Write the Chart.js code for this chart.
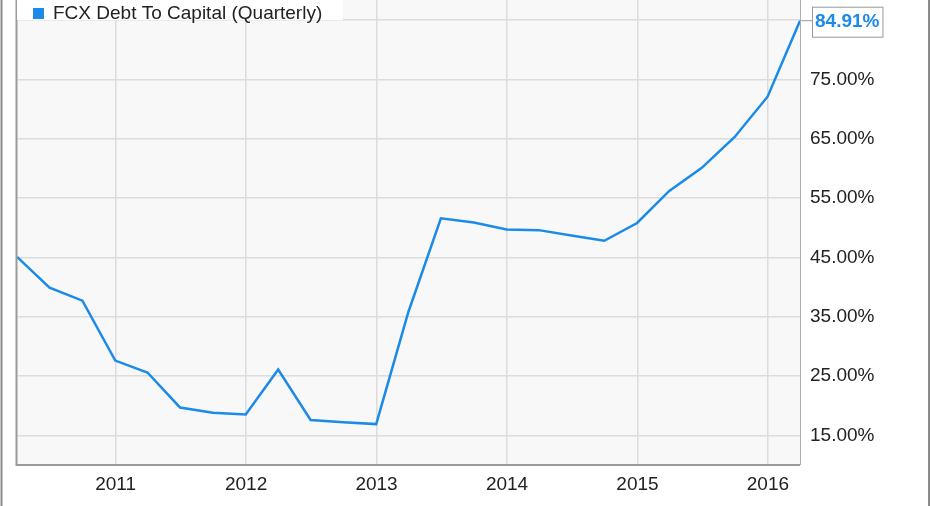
<!DOCTYPE html>
<html>
<head>
<meta charset="utf-8">
<script src="https://cdn.jsdelivr.net/npm/chart.js@4/dist/chart.umd.min.js"></script>
<style>
  html, body { margin: 0; padding: 0; background: #ffffff; }
  #wrap { width: 931px; height: 506px; position: relative; }
</style>
</head>
<body>
<div id="wrap"><canvas id="chart" width="931" height="506"></canvas></div>
<script>
const seriesLabel = 'FCX Debt To Capital (Quarterly)'

const quarterEnds = [
  '2010-03-31', '2010-06-30', '2010-09-30', '2010-12-31',
  '2011-03-31', '2011-06-30', '2011-09-30', '2011-12-31',
  '2012-03-31', '2012-06-30', '2012-09-30', '2012-12-31',
  '2013-03-31', '2013-06-30', '2013-09-30', '2013-12-31',
  '2014-03-31', '2014-06-30', '2014-09-30', '2014-12-31',
  '2015-03-31', '2015-06-30', '2015-09-30', '2015-12-31',
  '2016-03-31'
]

const debtToCapital = [
  45.1, 39.9, 37.7, 27.6,
  25.6, 19.7, 18.8, 18.5,
  26.1, 17.6, 17.2, 16.9,
  35.8, 51.6, 50.9, 49.7,
  49.6, 48.7, 47.8, 50.8,
  56.2, 60.1, 65.3, 72.1,
  84.91
]

const yearTicks = [2011, 2012, 2013, 2014, 2015, 2016]
const percentTicks = [15, 25, 35, 45, 55, 65, 75, 85]

const lineColor = '#1b8ae8'
const fontFamily = '"Liberation Sans", Arial, sans-serif'

// дата -> дробный год, чтобы положить точки на линейную ось
function toYear (s) {
  const [y, m, d] = s.split('-').map(Number)
  const start = Date.UTC(y, 0, 1)
  const end = Date.UTC(y + 1, 0, 1)
  return y + (Date.UTC(y, m - 1, d) - start) / (end - start)
}

const points = quarterEnds.map((q, i) => ({ x: toYear(q), y: debtToCapital[i] }))

const framePlugin = {
  id: 'frame',
  beforeDraw (chart) {
    const { ctx, chartArea: a } = chart
    ctx.save()
    ctx.fillStyle = '#f8f8f8'
    ctx.fillRect(a.left, a.top, a.right - a.left, a.bottom - a.top)
    ctx.restore()
  },
  afterDraw (chart) {
    const { ctx, chartArea: a, width } = chart
    ctx.save()
    // рамка области графика
    ctx.strokeStyle = '#9a9a9a'
    ctx.lineWidth = 2
    ctx.beginPath()
    ctx.moveTo(a.left - 0.5, a.top)
    ctx.lineTo(a.left - 0.5, a.bottom)
    ctx.lineTo(a.right, a.bottom)
    ctx.stroke()
    ctx.lineWidth = 1
    ctx.strokeStyle = '#b0b0b0'
    ctx.beginPath()
    ctx.moveTo(a.right + 0.5, a.top)
    ctx.lineTo(a.right + 0.5, a.bottom)
    ctx.stroke()
    // внешняя рамка
    ctx.strokeStyle = '#8a8a8a'
    ctx.lineWidth = 2
    ctx.beginPath()
    ctx.moveTo(1.5, 0)
    ctx.lineTo(1.5, chart.height)
    ctx.moveTo(width - 2, 0)
    ctx.lineTo(width - 2, chart.height)
    ctx.stroke()

    // легенда
    ctx.fillStyle = '#ffffff'
    ctx.fillRect(a.left, 0, 326, 20)
    ctx.fillStyle = lineColor
    ctx.fillRect(33, 8, 11, 11)
    ctx.fillStyle = '#222222'
    ctx.font = '19px ' + fontFamily
    ctx.textBaseline = 'alphabetic'
    ctx.fillText(chart.data.datasets[0].label, 53, 18.5)

    // подпись последнего значения
    const meta = chart.getDatasetMeta(0)
    const last = meta.data[meta.data.length - 1]
    const value = chart.data.datasets[0].data[meta.data.length - 1].y
    const text = value.toFixed(2) + '%'
    ctx.font = 'bold 19px ' + fontFamily
    const w = ctx.measureText(text).width + 6
    const bx = last.x + 12
    const by = last.y - 14
    ctx.fillStyle = '#ffffff'
    ctx.fillRect(bx, by, w, 30)
    ctx.strokeStyle = '#999999'
    ctx.lineWidth = 1
    ctx.strokeRect(bx + 0.5, by + 0.5, w, 30)
    ctx.beginPath()
    ctx.moveTo(last.x, last.y)
    ctx.lineTo(bx, last.y)
    ctx.stroke()
    ctx.fillStyle = lineColor
    ctx.textBaseline = 'middle'
    ctx.fillText(text, bx + 3, last.y + 1.5)
    ctx.restore()
  }
}

new Chart(document.getElementById('chart'), {
  type: 'line',
  data: {
    datasets: [{
      label: seriesLabel,
      data: points,
      borderColor: lineColor,
      borderWidth: 2.5,
      pointRadius: 0,
      tension: 0,
      fill: false
    }]
  },
  options: {
    responsive: false,
    animation: false,
    layout: { padding: { left: 17, top: 0, right: 0, bottom: 0 } },
    plugins: {
      legend: { display: false },
      tooltip: { enabled: false }
    },
    scales: {
      x: {
        type: 'linear',
        min: points[0].x,
        max: points[points.length - 1].x,
        afterBuildTicks (scale) {
          scale.ticks = yearTicks.map(v => ({ value: v }))
        },
        afterFit (scale) {
          scale.height = 41
          scale.paddingLeft = 0
          scale.paddingRight = 0
        },
        border: { display: false },
        grid: { color: '#dcdcdc', lineWidth: 1.5, drawTicks: false },
        ticks: {
          padding: 8,
          color: '#222222',
          font: { family: fontFamily, size: 19 },
          callback: v => String(v)
        }
      },
      y: {
        position: 'right',
        min: 10,
        max: 88.4,
        afterBuildTicks (scale) {
          scale.ticks = percentTicks.map(v => ({ value: v }))
        },
        afterFit (scale) {
          scale.width = 131
          scale.paddingTop = 0
          scale.paddingBottom = 0
        },
        border: { display: false },
        grid: { color: '#dcdcdc', lineWidth: 1.5, drawTicks: false },
        ticks: {
          padding: 10,
          color: '#222222',
          font: { family: fontFamily, size: 19 },
          callback: v => v === 85 ? '' : v.toFixed(2) + '%'
        }
      }
    }
  },
  plugins: [framePlugin]
})
</script>
</body>
</html>
